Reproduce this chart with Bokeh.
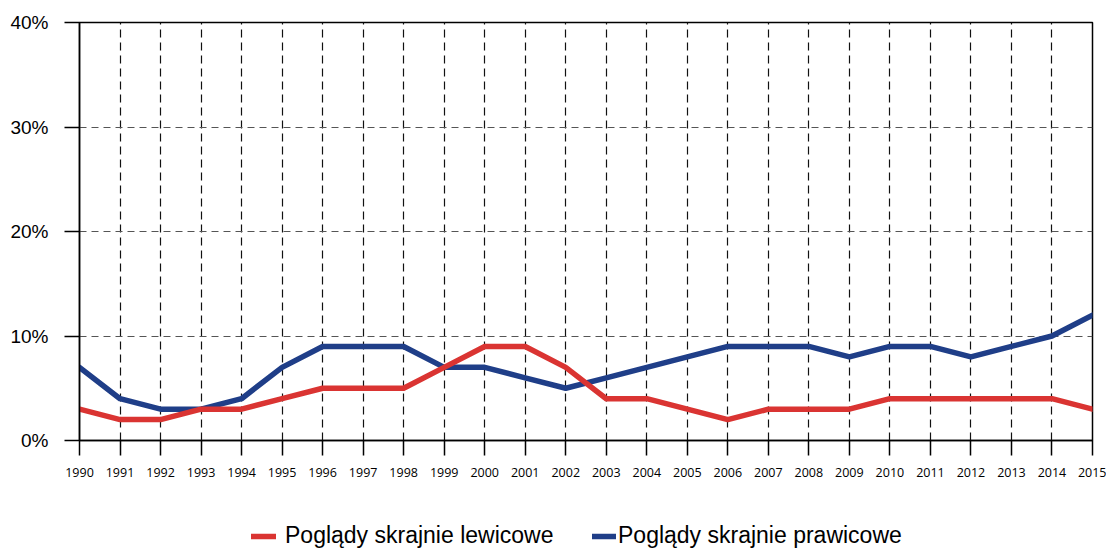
from bokeh.plotting import figure
from bokeh.layouts import column
from bokeh.models import FixedTicker, Legend, LegendItem, Range1d
from bokeh.embed import file_html
from bokeh.resources import INLINE

years = list(range(1990, 2016))
left_views = [3, 2, 2, 3, 3, 4, 5, 5, 5, 7, 9, 9, 7, 4, 4, 3, 2, 3, 3, 3, 4, 4, 4, 4, 4, 3]
right_views = [7, 4, 3, 3, 4, 7, 9, 9, 9, 7, 7, 6, 5, 6, 7, 8, 9, 9, 9, 8, 9, 9, 8, 9, 10, 12]
y_ticks = [0, 10, 20, 30, 40]
y_labels = ["0%", "10%", "20%", "30%", "40%"]
series_names = ["Poglądy skrajnie lewicowe", "Poglądy skrajnie prawicowe"]
RED = "#DA3432"
BLUE = "#1F3E88"
LINE_W = 5.5

p = figure(width=1106, height=490, output_backend="svg", toolbar_location=None,
           x_range=Range1d(1990, 2015), y_range=Range1d(0, 40),
           min_border_left=79, min_border_right=14, min_border_top=22,
           min_border_bottom=50)
p.background_fill_color = "white"
p.border_fill_color = "white"
p.outline_line_color = "black"
p.outline_line_width = 1.5

# axes
p.xaxis.ticker = FixedTicker(ticks=years)
p.yaxis.ticker = FixedTicker(ticks=y_ticks)
p.yaxis.major_label_overrides = {t: l for t, l in zip(y_ticks, y_labels)}
p.xaxis.major_label_overrides = {y: str(y) for y in years}
for ax in (p.xaxis[0], p.yaxis[0]):
    ax.axis_line_color = "black"
    ax.axis_line_width = 1.5
    ax.major_tick_line_color = "black"
    ax.major_tick_line_width = 1.5
    ax.major_tick_out = 15
    ax.major_tick_in = 0
    ax.minor_tick_out = 0
    ax.minor_tick_in = 0
    ax.major_label_text_color = "black"
p.xaxis.major_label_text_font = "Open Sans"
p.xaxis.major_label_text_font_size = "12.5px"
p.xaxis.major_label_standoff = 12
p.yaxis.major_label_text_font = "Liberation Sans"
p.yaxis.major_label_text_font_size = "19px"
p.yaxis.major_label_standoff = 16

# grids
p.xgrid.ticker = FixedTicker(ticks=years)
p.xgrid.grid_line_color = "#111111"
p.xgrid.grid_line_dash = "8 5"
p.xgrid.grid_line_width = 1.2
p.ygrid.ticker = FixedTicker(ticks=y_ticks)
p.ygrid.grid_line_color = "#555555"
p.ygrid.grid_line_dash = "7 5"
p.ygrid.grid_line_width = 1.2

p.line(years, right_views, line_color=BLUE, line_width=LINE_W,
       line_join="round", line_cap="round")
p.line(years, left_views, line_color=RED, line_width=LINE_W,
       line_join="round", line_cap="round")

# legend strip below the chart (series drawn out of view, only the legend shows)
lg = figure(width=1106, height=59, output_backend="svg", toolbar_location=None,
            x_range=Range1d(0, 1), y_range=Range1d(0, 1),
            x_axis_location=None, y_axis_location=None,
            min_border_left=0, min_border_right=0, min_border_top=0,
            min_border_bottom=0)
lg.outline_line_color = None
lg.grid.visible = False
lg.background_fill_color = "white"
lg_red = lg.line(years, left_views, line_color=RED, line_width=LINE_W, line_cap="round")
lg_blue = lg.line(years, right_views, line_color=BLUE, line_width=LINE_W, line_cap="round")


def make_legend(label, renderer, loc, glyph_w, standoff):
    return Legend(items=[LegendItem(label=label, renderers=[renderer])],
                  location=loc, orientation="horizontal",
                  padding=0, margin=0, spacing=0,
                  glyph_width=glyph_w, glyph_height=20, label_standoff=standoff,
                  label_text_font="Liberation Sans", label_text_font_size="23px",
                  label_text_color="black", border_line_color=None,
                  background_fill_alpha=0)


lg.add_layout(make_legend(series_names[0], lg_red, (172, 0), 25, 9), "center")
lg.add_layout(make_legend(series_names[1], lg_blue, (513, 0), 24, 2), "center")

open("out.html", "w").write(file_html(column(p, lg, spacing=0), INLINE))
